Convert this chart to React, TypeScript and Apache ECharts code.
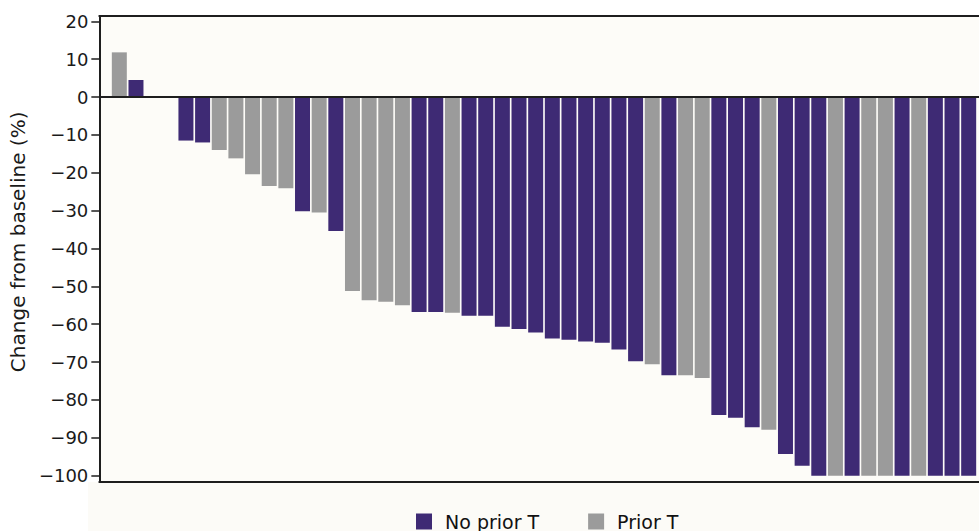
import React, { useEffect, useRef } from "react";
import * as echarts from "echarts";

// Legend labels
const legendLabels = ["No prior T", "Prior T"];

// Y-axis tick values
const yTicks = [20, 10, 0, -10, -20, -30, -40, -50, -60, -70, -80, -90, -100];

// Best change from baseline (%) per patient (null = no bar)
const changes: (number | null)[] = [
  11.8, 4.5, null, null, -11.5, -12.0, -14.0, -16.2, -20.4, -23.5,
  -24.1, -30.2, -30.5, -35.4, -51.2, -53.7, -54.1, -55.0, -56.8, -56.8,
  -57.0, -57.8, -57.8, -60.7, -61.3, -62.2, -63.8, -64.1, -64.6, -64.9,
  -66.7, -69.8, -70.6, -73.5, -73.5, -74.2, -84.0, -84.7, -87.2, -87.9,
  -94.3, -97.4, -100, -100, -100, -100, -100, -100, -100, -100,
  -100, -100,
];

// Group per patient: N = No prior T, P = Prior T
const groups: string[] = [
  "P", "N", "", "", "N", "N", "P", "P", "P", "P",
  "P", "N", "P", "N", "P", "P", "P", "P", "N", "N",
  "P", "N", "N", "N", "N", "N", "N", "N", "N", "N",
  "N", "N", "P", "N", "P", "P", "N", "N", "N", "P",
  "N", "N", "N", "P", "N", "P", "P", "N", "P", "N",
  "N", "N",
];

const PURPLE = "#3e2a74";
const GRAY = "#9b9b9b";
const INK = "#1e1e1e";
const FONT = "DejaVu Sans";

export default function App() {
  const ref = useRef<HTMLDivElement>(null);

  useEffect(() => {
    if (!ref.current) return;
    const chart = echarts.init(ref.current, undefined, { renderer: "svg" });

    const dataFor = (code: string) =>
      changes
        .map((v, i) => (groups[i] === code && v !== null ? [i, v] : null))
        .filter((d) => d !== null);

    chart.setOption({
      animation: false,
      backgroundColor: "#ffffff",
      graphic: [
        {
          type: "rect",
          left: 88,
          top: 482,
          shape: { width: 891, height: 49 },
          style: { fill: "#fcfbf7" },
          z: -10,
          silent: true,
        },
      ],
      grid: {
        left: 97,
        right: 0,
        top: 16,
        height: 465.7,
        show: true,
        backgroundColor: "#fdfcf8",
        borderWidth: 0,
      },
      legend: {
        data: legendLabels,
        left: 411,
        top: 507,
        itemWidth: 16,
        itemHeight: 16,
        itemGap: 49,
        icon: "rect",
        textStyle: {
          fontFamily: FONT,
          fontSize: 19,
          color: "#111",
          padding: [0, 0, 0, 8],
        },
      },
      xAxis: [
        {
          type: "value",
          min: -1.2,
          max: 51.62,
          position: "bottom",
          axisLine: { show: true, onZero: false, lineStyle: { color: INK, width: 2 } },
          axisTick: { show: false },
          axisLabel: { show: false },
          splitLine: { show: false },
        },
        {
          type: "value",
          min: -1.2,
          max: 51.62,
          position: "top",
          axisLine: { show: true, onZero: false, lineStyle: { color: INK, width: 2 } },
          axisTick: { show: false },
          axisLabel: { show: false },
          splitLine: { show: false },
        },
      ],
      yAxis: {
        type: "value",
        min: -101.6,
        max: 21.4,
        axisLine: { show: true, onZero: false, lineStyle: { color: INK, width: 2 } },
        axisTick: {
          show: true,
          length: 8,
          customValues: yTicks,
          lineStyle: { color: INK, width: 1.5 },
        },
        axisLabel: {
          customValues: yTicks,
          margin: 11,
          fontFamily: FONT,
          fontSize: 18,
          color: "#1a1a1a",
          formatter: (v: number) => (v < 0 ? "\u2212" + Math.abs(v) : String(v)),
        },
        splitLine: { show: false },
        name: "Change from baseline (%)",
        nameLocation: "middle",
        nameGap: 61,
        nameTextStyle: {
          fontFamily: FONT,
          fontSize: 20,
          color: "#1a1a1a",
          padding: [0, 0, 0, 14],
        },
      },
      series: [
        {
          name: legendLabels[0],
          type: "bar",
          xAxisIndex: 0,
          barWidth: 15,
          barGap: "-100%",
          itemStyle: { color: PURPLE },
          data: dataFor("N"),
          markLine: {
            silent: true,
            symbol: ["none", "none"],
            label: { show: false },
            lineStyle: { color: INK, width: 2, type: "solid" },
            data: [{ yAxis: 0 }],
          },
        },
        {
          name: legendLabels[1],
          type: "bar",
          xAxisIndex: 0,
          barWidth: 15,
          barGap: "-100%",
          itemStyle: { color: GRAY },
          data: dataFor("P"),
        },
      ],
    });

    return () => chart.dispose();
  }, []);

  return (
    <div
      ref={ref}
      style={{ position: "fixed", left: 0, top: 0, width: 979, height: 531 }}
    />
  );
}
